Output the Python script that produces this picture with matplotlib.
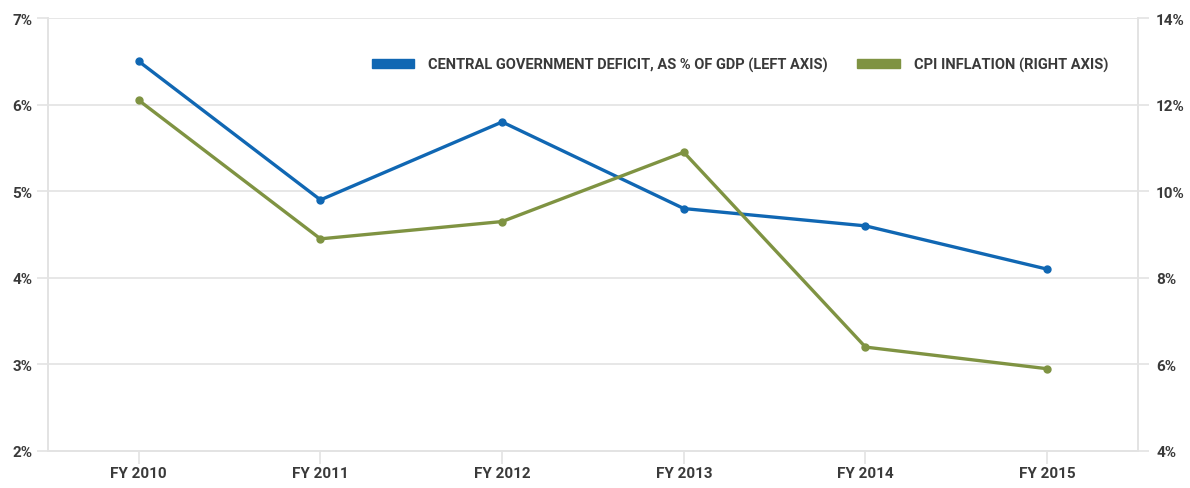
import matplotlib
matplotlib.use("Agg")
import matplotlib.pyplot as plt
from matplotlib.patches import Patch
from matplotlib.ticker import FuncFormatter

years = ["FY 2010", "FY 2011", "FY 2012", "FY 2013", "FY 2014", "FY 2015"]
deficit = [6.5, 4.9, 5.8, 4.8, 4.6, 4.1]          # left axis, % of GDP
cpi = [12.1, 8.9, 9.3, 10.9, 6.4, 5.9]            # right axis, %
left_ticks = [2, 3, 4, 5, 6, 7]
right_ticks = [4, 6, 8, 10, 12, 14]

blue = "#1067b3"
green = "#7f9342"
grid_c = "#e3e3e3"
text_c = "#3a3a3a"

plt.rcParams["font.family"] = ["Roboto", "DejaVu Sans"]

fig = plt.figure(figsize=(11.9, 4.89), dpi=100)
ax = fig.add_axes([0.0403, 0.0757, 0.9160, 0.8853])
ax2 = ax.twinx()

x = range(len(years))
ax.plot(x, deficit, color=blue, lw=2.4, marker="o", ms=5, zorder=3)
ax2.plot(x, cpi, color=green, lw=2.4, marker="o", ms=5, zorder=3)

ax.set_xlim(-0.5, 5.5)
ax.set_ylim(2, 7)
ax2.set_ylim(4, 14)
ax.set_yticks(left_ticks)
ax2.set_yticks(right_ticks)
pct = FuncFormatter(lambda v, p: "%d%%" % v)
ax.yaxis.set_major_formatter(pct)
ax2.yaxis.set_major_formatter(pct)
ax.set_xticks(list(x))
ax.set_xticklabels(years)

ax.grid(axis="y", color=grid_c, lw=1.2)
ax.set_axisbelow(True)
for a in (ax, ax2):
    for s in a.spines.values():
        s.set_color(grid_c)
        s.set_linewidth(1.2)
    a.spines["top"].set_visible(False)
    a.tick_params(colors=grid_c, labelcolor=text_c, width=1.2, length=8)
    for lbl in a.get_yticklabels() + a.get_xticklabels():
        lbl.set_fontweight("bold")
        lbl.set_fontsize(11)
ax.tick_params(axis="x", length=9, pad=2)
ax.tick_params(axis="y", pad=3)
ax2.tick_params(axis="y", pad=5)

handles = [Patch(color=blue), Patch(color=green)]
labels = ["CENTRAL GOVERNMENT DEFICIT, AS % OF GDP (LEFT AXIS)",
          "CPI INFLATION (RIGHT AXIS)"]
leg = ax.legend(handles, labels, ncol=2, frameon=False, loc="upper right",
                bbox_to_anchor=(0.985, 0.94), handlelength=2.9, handleheight=0.6,
                columnspacing=2.0, handletextpad=1.0,
                prop={"weight": "bold", "size": 10.5})
for t in leg.get_texts():
    t.set_color(text_c)

fig.savefig("out.png", dpi=100)
